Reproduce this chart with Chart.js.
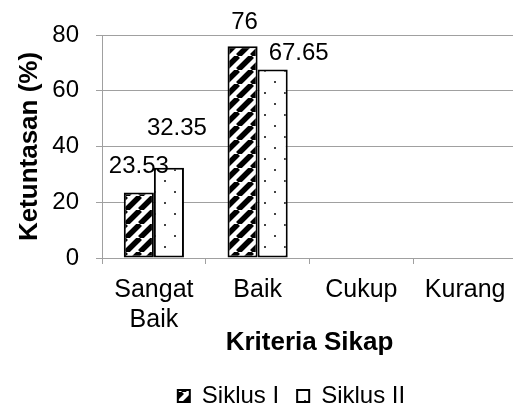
<!DOCTYPE html>
<html>
<head>
<meta charset="utf-8">
<script src="https://cdn.jsdelivr.net/npm/chart.js@4.4.0/dist/chart.umd.min.js"></script>
<style>
  html, body { margin: 0; padding: 0; background: #fff; overflow: hidden; }
  #wrap { width: 518px; height: 405px; }
</style>
</head>
<body>
<div id="wrap"><canvas id="sikapChart"></canvas></div>
<script>
const categories = [['Sangat', 'Baik'], 'Baik', 'Cukup', 'Kurang'];
const siklus1 = [23.53, 76, null, null];
const siklus2 = [32.35, 67.65, null, null];
const seriesNames = ['Siklus I', 'Siklus II'];
const yTicks = [0, 20, 40, 60, 80];

// labels were nudged by hand in the original, so keep the offsets (px)
const labelShifts = [
    [[0, -26], [2, -24]],
    [[8, -39], [26, -16]]
];

Chart.defaults.font.family = '"Liberation Sans", Arial, sans-serif';
Chart.defaults.color = '#000';

const canvas = document.getElementById('sikapChart');
const ctx = canvas.getContext('2d');

function stripePattern() {
    const c = document.createElement('canvas');
    c.width = 14; c.height = 14;
    const g = c.getContext('2d');
    g.fillStyle = '#fff';
    g.fillRect(0, 0, 14, 14);
    g.strokeStyle = '#000';
    g.lineWidth = 5.5;
    g.beginPath();
    for (let k = -14; k <= 28; k += 14) {
        g.moveTo(k, 14);
        g.lineTo(k + 14, 0);
    }
    g.stroke();
    return ctx.createPattern(c, 'repeat');
}

function dotPattern() {
    const c = document.createElement('canvas');
    c.width = 20; c.height = 22;
    const g = c.getContext('2d');
    g.fillStyle = '#fff';
    g.fillRect(0, 0, 20, 22);
    g.fillStyle = '#444';
    g.fillRect(4, 4, 2, 2);
    g.fillRect(14, 15, 2, 2);
    return ctx.createPattern(c, 'repeat');
}

const valueLabels = {
    id: 'valueLabels',
    afterDatasetsDraw(chart) {
        const c = chart.ctx;
        c.save();
        c.font = '24px "Liberation Sans", Arial, sans-serif';
        c.fillStyle = '#000';
        c.textAlign = 'center';
        c.textBaseline = 'middle';
        chart.data.datasets.forEach((ds, i) => {
            chart.getDatasetMeta(i).data.forEach((bar, j) => {
                const v = ds.data[j];
                if (v == null) return;
                const s = labelShifts[i][j];
                c.fillText(String(v), bar.x + s[0], bar.y + s[1]);
            });
        });
        c.restore();
    }
};

// legend sits right of the canvas centre and lower in the original
const legendShift = {
    id: 'legendShift',
    afterLayout(chart) {
        chart.legend.left += 33;
        chart.legend.right += 33;
        chart.legend.top += 13;
        chart.legend.bottom += 13;
    }
};

new Chart(ctx, {
    type: 'bar',
    data: {
        labels: categories,
        datasets: [{
            label: seriesNames[0],
            data: siklus1,
            backgroundColor: stripePattern(),
            borderColor: '#000',
            borderWidth: 2,
            borderSkipped: false
        }, {
            label: seriesNames[1],
            data: siklus2,
            backgroundColor: dotPattern(),
            borderColor: '#000',
            borderWidth: 2,
            borderSkipped: false
        }]
    },
    options: {
        responsive: true,
        maintainAspectRatio: false,
        animation: false,
        barPercentage: 1,
        categoryPercentage: 0.58,
        layout: { padding: { top: 35, right: 1, bottom: 0, left: 0 } },
        plugins: {
            legend: {
                position: 'bottom',
                labels: { font: { size: 24 }, boxWidth: 12, boxHeight: 12, padding: 18 }
            },
            tooltip: { enabled: false }
        },
        scales: {
            x: {
                afterFit(axis) { axis.height = 95; },
                grid: { drawOnChartArea: false, drawTicks: true, tickLength: 6, color: '#a0a0a0' },
                border: { color: '#a0a0a0' },
                ticks: { font: { size: 25, lineHeight: 1.2 }, padding: 11, maxRotation: 0, autoSkip: false },
                title: {
                    display: true,
                    text: 'Kriteria Sikap',
                    font: { size: 26, weight: 'bold', lineHeight: 1 },
                    padding: { top: 0, bottom: -3 }
                }
            },
            y: {
                min: 0,
                max: 80,
                afterBuildTicks(axis) {
                    axis.ticks = yTicks.map(v => ({ value: v }));
                },
                afterFit(axis) { axis.width = 102; },
                grid: { color: '#a0a0a0', tickLength: 6 },
                border: { color: '#a0a0a0' },
                ticks: { font: { size: 24 }, padding: 17 },
                title: {
                    display: true,
                    text: 'Ketuntasan (%)',
                    font: { size: 26, weight: 'bold' },
                    padding: { top: 14, bottom: 0 }
                }
            }
        }
    },
    plugins: [valueLabels, legendShift]
});
</script>
</body>
</html>
